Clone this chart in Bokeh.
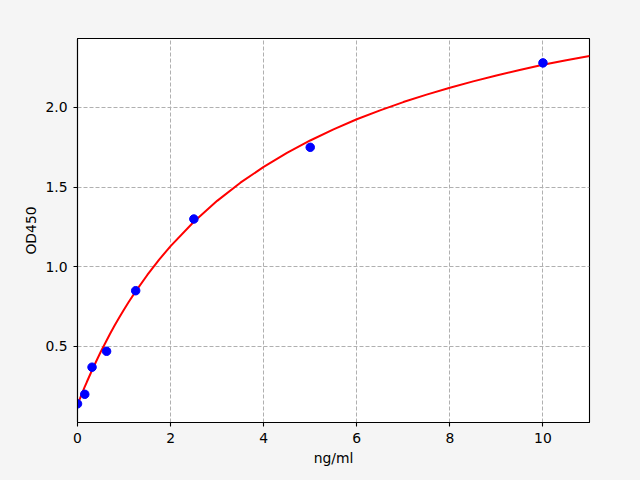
from bokeh.plotting import figure
from bokeh.models import FixedTicker, PrintfTickFormatter, Range1d
from bokeh.embed import file_html
from bokeh.resources import INLINE

# measured standards
conc = [0.0, 0.156, 0.3125, 0.625, 1.25, 2.5, 5.0, 10.0]
od = [0.14, 0.20, 0.37, 0.47, 0.85, 1.30, 1.75, 2.28]

# fitted curve
curve_x = [0.0, 0.05, 0.1, 0.15, 0.2, 0.3, 0.4, 0.5, 0.6, 0.7, 0.8, 0.9, 1.0,
           1.1, 1.25, 1.5, 1.75, 2.0, 2.5, 3.0, 3.5, 4.0, 4.5, 5.0, 5.5, 6.0,
           6.5, 7.0, 7.5, 8.0, 8.5, 9.0, 9.5, 10.0, 10.5, 11.0]
curve_y = [0.135, 0.172, 0.208, 0.243, 0.277, 0.343, 0.406, 0.467, 0.524,
           0.580, 0.633, 0.683, 0.732, 0.779, 0.846, 0.949, 1.044, 1.130,
           1.283, 1.414, 1.528, 1.627, 1.715, 1.793, 1.863, 1.926, 1.982,
           2.034, 2.081, 2.124, 2.164, 2.201, 2.235, 2.268, 2.297, 2.323]

x_ticks = [0, 2, 4, 6, 8, 10]
y_ticks = [0.5, 1.0, 1.5, 2.0]

FONT = "DejaVu Sans"
FS = "13.9px"

p = figure(width=640, height=480, output_backend="svg", toolbar_location=None,
           x_range=Range1d(0, 11), y_range=Range1d(0.023, 2.433),
           min_border_left=77, min_border_right=51, min_border_top=38,
           min_border_bottom=58)
p.border_fill_color = "#f5f5f5"
p.background_fill_color = "white"
p.outline_line_color = "black"
p.outline_line_width = 1.1

p.line(curve_x, curve_y, line_color="#ff0000", line_width=2)
p.scatter(conc, od, size=8.5, fill_color="#0000ff", line_color="#0000ff")

for ax in (p.xaxis, p.yaxis):
    ax.axis_line_color = "black"
    ax.axis_line_width = 1.1
    ax.major_tick_line_color = "black"
    ax.major_tick_line_width = 1.1
    ax.major_tick_in = 0
    ax.major_tick_out = 4
    ax.minor_tick_line_color = None
    ax.major_label_text_font = FONT
    ax.major_label_text_font_size = FS
    ax.major_label_text_color = "black"
    ax.axis_label_text_font = FONT
    ax.axis_label_text_font_size = FS
    ax.axis_label_text_font_style = "normal"
    ax.axis_label_text_color = "black"

p.xaxis.ticker = FixedTicker(ticks=x_ticks)
p.yaxis.ticker = FixedTicker(ticks=y_ticks)
p.yaxis.formatter = PrintfTickFormatter(format="%.1f")
p.xaxis.axis_label = "ng/ml"
p.yaxis.axis_label = "OD450"
p.xaxis.major_label_standoff = 6
p.yaxis.major_label_standoff = 6
p.xaxis.axis_label_standoff = 4
p.yaxis.axis_label_standoff = 3

for g in (p.xgrid, p.ygrid):
    g.grid_line_color = "#b0b0b0"
    g.grid_line_dash = "4 2"
    g.grid_line_width = 1
p.xgrid.ticker = FixedTicker(ticks=x_ticks)
p.ygrid.ticker = FixedTicker(ticks=y_ticks)

html = file_html(p, INLINE)
html = html.replace("<head>", "<head><style>body{background:#f5f5f5;}</style>", 1)
open("out.html", "w").write(html)
